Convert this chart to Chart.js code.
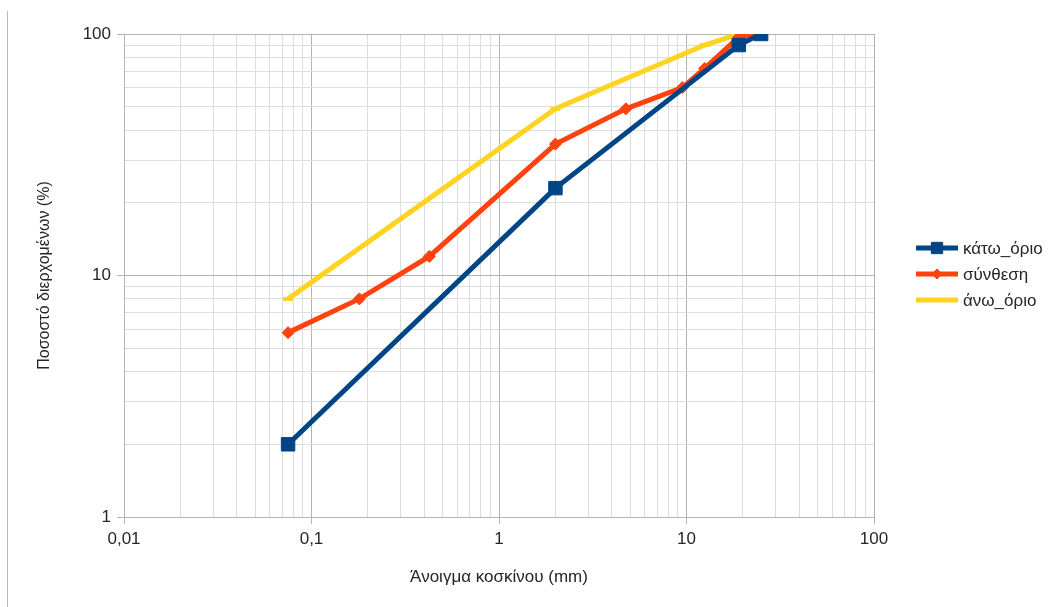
<!DOCTYPE html>
<html>
<head>
<meta charset="utf-8">
<script src="https://cdn.jsdelivr.net/npm/chart.js@4/dist/chart.umd.min.js"></script>
<style>
  html, body { margin: 0; padding: 0; background: #ffffff; }
  #wrap { position: relative; width: 1053px; height: 607px; }
  #edge { position: absolute; left: 7px; top: 11px; width: 1px; height: 596px; background: #a9bcd6; }
</style>
</head>
<body>
<div id="wrap">
  <div id="edge"></div>
  <canvas id="c" width="1053" height="607"></canvas>
</div>
<script>
// ---- data ----
const seriesNames = ['κάτω_όριο', 'σύνθεση', 'άνω_όριο'];
const lowerX = [0.075, 2, 19, 25];
const lowerY = [2, 23, 90, 100];
const mixX = [0.075, 0.18, 0.425, 2, 4.75, 9.5, 12.5, 19, 25];
const mixY = [5.8, 8, 12, 35, 49, 60, 72, 97, 100];
const upperX = [0.075, 2, 12.5, 19, 25];
const upperY = [8, 49, 90, 100, 100];

const xMajorTicks = [0.01, 0.1, 1, 10, 100];
const xTickLabels = ['0,01', '0,1', '1', '10', '100'];
const yMajorTicks = [1, 10, 100];
const yTickLabels = ['1', '10', '100'];

const xTitle = 'Άνοιγμα κοσκίνου (mm)';
const yTitle = 'Ποσοστό διερχομένων (%)';

const colors = ['#004586', '#ff420e', '#ffd320'];

// ---- helpers ----
function toPoints(xs, ys) { return xs.map((x, i) => ({ x: x, y: ys[i] })); }
function logTicks(majors) {
  const out = [];
  for (let i = 0; i < majors.length - 1; i++) {
    for (let m = 1; m <= 9; m++) out.push(Number((majors[i] * m).toPrecision(3)));
  }
  out.push(majors[majors.length - 1]);
  return out.map(v => ({ value: v }));
}
function isMajor(v) {
  const l = Math.log10(v);
  return Math.abs(l - Math.round(l)) < 1e-9;
}
function labelFor(v, majors, labels) {
  for (let i = 0; i < majors.length; i++) if (Math.abs(majors[i] - v) < 1e-12) return labels[i];
  return '';
}

const fontFamily = '"Liberation Sans", Arial, sans-serif';
const textColor = '#262626';
const legendMarkerRadius = [8, 5, 4];

const legendPlugin = {
  id: 'customLegend',
  afterDraw(chart) {
    const ctx = chart.ctx;
    const area = chart.chartArea;
    const x0 = 916, x1 = 958, tx = 963;
    const rowH = 26;
    const n = chart.data.datasets.length;
    const cy = (area.top + area.bottom) / 2 - 2;
    ctx.save();
    chart.data.datasets.forEach((ds, i) => {
      const y = Math.round(cy - (n - 1) / 2 * rowH + i * rowH);
      ctx.strokeStyle = ds.borderColor;
      ctx.lineWidth = ds.borderWidth;
      ctx.lineCap = 'butt';
      ctx.beginPath(); ctx.moveTo(x0, y); ctx.lineTo(x1, y); ctx.stroke();
      const mx = (x0 + x1) / 2;
      ctx.fillStyle = ds.borderColor;
      ctx.strokeStyle = ds.borderColor;
      ctx.lineWidth = ds.pointBorderWidth;
      Chart.helpers.drawPoint(ctx, {
        pointStyle: ds.pointStyle, radius: legendMarkerRadius[i], rotation: 0,
        borderWidth: ds.pointBorderWidth
      }, mx, y);
      ctx.fillStyle = textColor;
      ctx.font = '17px ' + fontFamily;
      ctx.textBaseline = 'middle';
      ctx.textAlign = 'left';
      ctx.fillText(ds.label, tx, y + 1);
    });
    ctx.restore();
  }
};

const chart = new Chart(document.getElementById('c'), {
  type: 'line',
  data: {
    datasets: [
      { label: seriesNames[0], data: toPoints(lowerX, lowerY), borderColor: colors[0], backgroundColor: colors[0],
        borderWidth: 5, pointStyle: 'rect', pointRadius: 9.5, pointBorderWidth: 1, pointBackgroundColor: colors[0], pointBorderColor: colors[0] },
      { label: seriesNames[1], data: toPoints(mixX, mixY), borderColor: colors[1], backgroundColor: colors[1],
        borderWidth: 5, pointStyle: 'rectRot', pointRadius: 6, pointBorderWidth: 1, pointBackgroundColor: colors[1], pointBorderColor: colors[1] },
      { label: seriesNames[2], data: toPoints(upperX, upperY), borderColor: colors[2], backgroundColor: colors[2],
        borderWidth: 5, pointStyle: 'line', pointRadius: 5, pointBorderWidth: 4, pointBackgroundColor: colors[2], pointBorderColor: colors[2] }
    ]
  },
  options: {
    responsive: false,
    animation: false,
    events: [],
    layout: { padding: { left: 0, top: 34, right: 179, bottom: 0 } },
    plugins: { legend: { display: false }, tooltip: { enabled: false } },
    scales: {
      x: {
        type: 'logarithmic', min: 0.01, max: 100,
        afterBuildTicks: s => { s.ticks = logTicks(xMajorTicks); },
        afterFit: s => { s.height = 90; },
        grid: {
          color: c => isMajor(c.tick.value) ? '#b3b3b3' : '#dddddd',
          tickColor: c => isMajor(c.tick.value) ? '#b3b3b3' : 'rgba(0,0,0,0)',
          tickLength: 7, lineWidth: 1
        },
        border: { color: '#b3b3b3' },
        ticks: {
          autoSkip: false, maxRotation: 0, padding: 5, color: textColor,
          font: { family: fontFamily, size: 17 },
          callback: v => labelFor(v, xMajorTicks, xTickLabels)
        },
        title: { display: true, text: xTitle, color: textColor, font: { family: fontFamily, size: 17 },
                 padding: { top: 0, bottom: 19 } }
      },
      y: {
        type: 'logarithmic', min: 1, max: 100,
        afterBuildTicks: s => { s.ticks = logTicks(yMajorTicks); },
        afterFit: s => { s.width = 124; },
        grid: {
          color: c => isMajor(c.tick.value) ? '#b3b3b3' : '#dddddd',
          tickColor: c => isMajor(c.tick.value) ? '#b3b3b3' : 'rgba(0,0,0,0)',
          tickLength: 7, lineWidth: 1
        },
        border: { color: '#b3b3b3' },
        ticks: {
          autoSkip: false, padding: 6, color: textColor,
          font: { family: fontFamily, size: 17 },
          callback: v => labelFor(v, yMajorTicks, yTickLabels)
        },
        title: { display: true, text: yTitle, color: textColor, font: { family: fontFamily, size: 16 },
                 padding: { top: 35, bottom: 0 } }
      }
    }
  },
  plugins: [legendPlugin]
});
</script>
</body>
</html>
